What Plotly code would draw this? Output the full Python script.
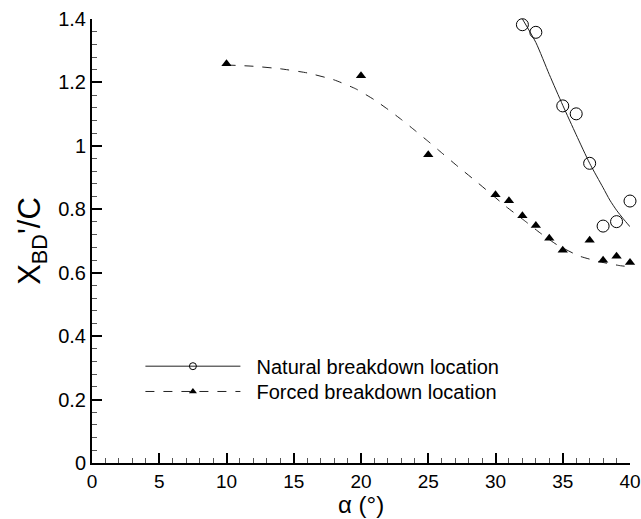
import plotly.graph_objects as go

# Measured data
natural_alpha = [32, 33, 35, 36, 37, 38, 39, 40]
natural_x = [1.382, 1.358, 1.126, 1.101, 0.945, 0.747, 0.761, 0.826]

forced_alpha = [10, 20, 25, 30, 31, 32, 33, 34, 35, 37, 38, 39, 40]
forced_x = [1.259, 1.221, 0.972, 0.846, 0.827, 0.780, 0.749, 0.709, 0.671, 0.702, 0.639, 0.652, 0.632]

# Fitted curves
natural_fit_alpha = [32, 33, 34, 35, 36, 37, 38, 38.5, 39, 39.5, 40]
natural_fit_x = [1.400, 1.326, 1.225, 1.128, 1.035, 0.945, 0.868, 0.829, 0.797, 0.770, 0.745]

forced_fit_alpha = [10, 12, 14, 16, 18, 19.6, 21, 22, 23, 24, 25, 26, 27.2, 28.5, 29.6, 30.8, 32.1, 33.3, 34.5, 36.2, 37.8, 39.3, 40]
forced_fit_x = [1.255, 1.251, 1.243, 1.230, 1.208, 1.180, 1.145, 1.115, 1.083, 1.049, 1.014, 0.978, 0.935, 0.890, 0.851, 0.808, 0.766, 0.726, 0.690, 0.653, 0.634, 0.622, 0.619]

legend_names = ["Natural breakdown location", "Forced breakdown location"]
x_title = "α (°)"
y_title = "X<sub>BD</sub>'/C"

x_ticks = list(range(0, 41, 5))
y_ticks = [0, 0.2, 0.4, 0.6, 0.8, 1, 1.2, 1.4]
y_tick_text = ["0", "0.2", "0.4", "0.6", "0.8", "1", "1.2", "1.4"]

FONT = "Liberation Sans, Arial, sans-serif"
PAD = "\u00a0\u00a0"

fig = go.Figure()

fig.add_trace(go.Scatter(x=natural_fit_alpha, y=natural_fit_x, mode="lines",
                         line=dict(color="#222", width=1, shape="spline", smoothing=0.6),
                         showlegend=False, hoverinfo="skip"))
fig.add_trace(go.Scatter(x=forced_fit_alpha, y=forced_fit_x, mode="lines",
                         line=dict(color="#222", width=1, dash="9px,9px", shape="spline", smoothing=0.5),
                         showlegend=False, hoverinfo="skip"))
fig.add_trace(go.Scatter(x=natural_alpha, y=natural_x, mode="markers", cliponaxis=False,
                         marker=dict(symbol="circle-open", size=12, color="black", line=dict(width=1)),
                         showlegend=False))
fig.add_trace(go.Scatter(x=forced_alpha, y=forced_x, mode="markers", cliponaxis=False,
                         marker=dict(symbol="triangle-up", size=9, color="black"),
                         showlegend=False))

# legend entries
fig.add_trace(go.Scatter(x=[None], y=[None], mode="lines+markers", name=PAD + legend_names[0],
                         legend="legend",
                         line=dict(color="#222", width=1),
                         marker=dict(symbol="circle-open", size=7, color="black", line=dict(width=1))))
fig.add_trace(go.Scatter(x=[None], y=[None], mode="lines+markers", name=PAD + legend_names[1],
                         legend="legend2",
                         line=dict(color="#222", width=1, dash="9px,9px"),
                         marker=dict(symbol="triangle-up", size=7, color="black")))

leg_common = dict(x=0.09, xanchor="left", yanchor="top", bgcolor="rgba(0,0,0,0)",
                  itemwidth=95, font=dict(size=20, family=FONT))

fig.update_layout(
    width=641, height=519,
    margin=dict(l=92, r=11, t=19, b=56),
    paper_bgcolor="white", plot_bgcolor="white",
    font=dict(family=FONT, size=20, color="black"),
    legend=dict(y=0.262, **leg_common),
    legend2=dict(y=0.205, **leg_common),
    xaxis=dict(range=[0, 40], tickvals=x_ticks, ticks="inside", ticklen=10, tickwidth=2,
               tickcolor="black", showline=True, linecolor="black", linewidth=2,
               showgrid=False, zeroline=False, automargin=False, ticklabeloverflow="allow",
               minor=dict(dtick=1, ticks="inside", ticklen=5, tickwidth=1, tickcolor="#555"),
               tickfont=dict(size=19)),
    yaxis=dict(range=[0, 1.4], tickvals=y_ticks, ticktext=y_tick_text, ticks="inside",
               ticklen=10, tickwidth=2, tickcolor="black", showline=True, linecolor="black",
               linewidth=2, showgrid=False, zeroline=False, automargin=False,
               ticklabeloverflow="allow",
               minor=dict(dtick=0.04, tick0=0, ticks="inside", ticklen=5, tickwidth=1, tickcolor="#555"),
               title=dict(text=y_title, font=dict(size=31), standoff=8),
               tickfont=dict(size=20)),
    annotations=[dict(text=x_title, xref="paper", yref="paper", x=0.5, y=-0.059,
                      xanchor="center", yanchor="top", showarrow=False,
                      font=dict(size=24, family=FONT))],
)

fig.write_html("out.html")
